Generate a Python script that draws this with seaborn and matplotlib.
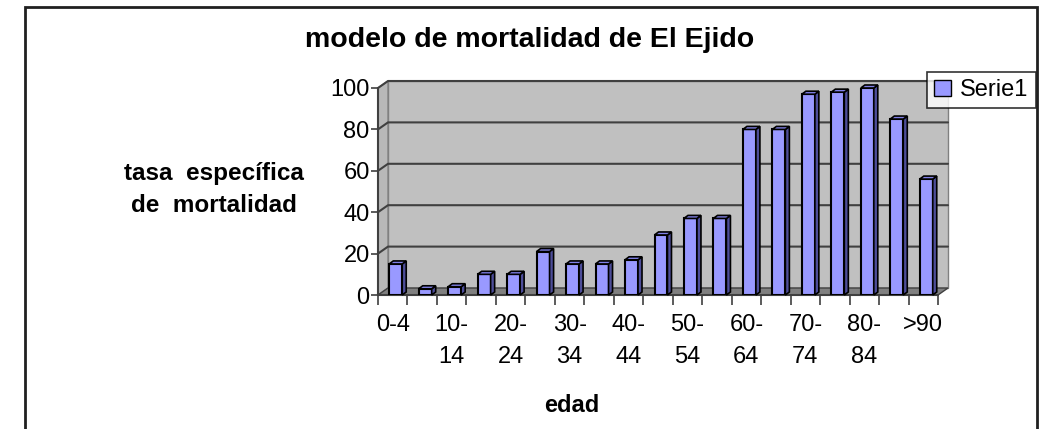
import pandas as pd
import matplotlib
matplotlib.use("Agg")
import matplotlib.pyplot as plt
from matplotlib.patches import Rectangle, Polygon
import seaborn as sns

# datos
grupos = ["0-4", "5-9", "10-14", "15-19", "20-24", "25-29", "30-34", "35-39",
          "40-44", "45-49", "50-54", "55-59", "60-64", "65-69", "70-74",
          "75-79", "80-84", "85-89", ">90"]
tasas = [15, 3, 4, 10, 10, 21, 15, 15, 17, 29, 37, 37, 80, 80, 97, 98, 100, 85, 56]
etiquetas = ["0-4", "", "10-\n14", "", "20-\n24", "", "30-\n34", "", "40-\n44", "",
             "50-\n54", "", "60-\n64", "", "70-\n74", "", "80-\n84", "", ">90"]
y_ticks = [0, 20, 40, 60, 80, 100]

sns.set_theme(style="white")
plt.rcParams['font.family'] = ['Liberation Sans', 'DejaVu Sans']
plt.rcParams['text.color'] = 'black'
plt.rcParams['xtick.labelcolor'] = 'black'
plt.rcParams['ytick.labelcolor'] = 'black'

W, H = 1042, 429
fig = plt.figure(figsize=(W / 100, H / 100), dpi=100)
ax = fig.add_axes([378 / W, 134 / H, 560 / W, 207 / H])

df = pd.DataFrame({"edad": grupos, "tasa": tasas})
sns.barplot(data=df, x="edad", y="tasa", color="#9999FF", saturation=1,
            width=0.44, edgecolor="black", linewidth=1.5, ax=ax, zorder=4)
bars = list(ax.patches)

ax.set_xlim(-0.5, len(grupos) - 0.5)
ax.set_ylim(0, 100)
ax.patch.set_visible(False)
for s in ax.spines.values():
    s.set_visible(False)

# profundidad de la pared (en fraccion de ejes)
dx, dy = 10 / 560, 7 / 207
gris = "#404040"

# pared de fondo, pared izquierda y suelo
ax.add_patch(Rectangle((dx, dy), 1, 1, transform=ax.transAxes, facecolor="#C0C0C0",
                       edgecolor="#808080", lw=1, zorder=0, clip_on=False))
ax.add_patch(Polygon([(0, 0), (0, 1), (dx, 1 + dy), (dx, dy)], transform=ax.transAxes,
                     facecolor="#B8B8B8", edgecolor="#808080", lw=1, zorder=1, clip_on=False))
ax.add_patch(Polygon([(0, 0), (1, 0), (1 + dx, dy), (dx, dy)], transform=ax.transAxes,
                     facecolor="#808080", edgecolor=gris, lw=1, zorder=2, clip_on=False))

# lineas de division
for t in y_ticks[1:]:
    f = t / 100
    ax.plot([0, dx, 1 + dx], [f, f + dy, f + dy], transform=ax.transAxes,
            color=gris, lw=1.5, zorder=1.5, clip_on=False)
ax.plot([0, 0], [0, 1], transform=ax.transAxes, color=gris, lw=1.5, zorder=3, clip_on=False)
ax.plot([0, 1], [0, 0], transform=ax.transAxes, color=gris, lw=1.5, zorder=3, clip_on=False)

# caras laterales y superiores de las barras
px_x = 560 / len(grupos)
px_y = 207 / 100
bdx, bdy = 4 / px_x, 3 / px_y
desp = 3 / px_x
for p in bars:
    p.set_x(p.get_x() + desp)
    x0, w, h = p.get_x(), p.get_width(), p.get_height()
    ax.add_patch(Polygon([(x0 + w, 0), (x0 + w, h), (x0 + w + bdx, h + bdy), (x0 + w + bdx, bdy)],
                         facecolor="#4D4D99", edgecolor="black", lw=1.2, zorder=4, clip_on=False))
    ax.add_patch(Polygon([(x0, h), (x0 + w, h), (x0 + w + bdx, h + bdy), (x0 + bdx, h + bdy)],
                         facecolor="#8080E6", edgecolor="black", lw=1.2, zorder=4, clip_on=False))

# ejes y marcas
ax.set_yticks(y_ticks)
ax.set_yticklabels([str(t) for t in y_ticks], fontsize=17)
ax.tick_params(axis="y", left=True, length=5, width=1.2, color=gris, pad=1)
ax.set_xticks(range(len(grupos)))
ax.set_xticklabels(etiquetas, fontsize=17, linespacing=1.55, va="top")
ax.set_xticks([i - 0.5 for i in range(len(grupos) + 1)], minor=True)
ax.tick_params(axis="x", which="major", bottom=True, length=0, pad=14)
ax.tick_params(axis="x", which="minor", bottom=True, length=7, width=1.2, color=gris)
ax.set_xlabel("")
ax.set_ylabel("")

# textos
fig.text(530 / W, 1 - 40 / H, "modelo de mortalidad de El Ejido", ha="center", va="center",
         fontsize=20.5, fontweight="bold")
fig.text(214 / W, 1 - 189 / H, "tasa  específica\nde  mortalidad", ha="center", va="center",
         multialignment="center", fontsize=17.5, fontweight="bold", linespacing=1.5)
fig.text(572 / W, 1 - 405 / H, "edad", ha="center", va="center", fontsize=17, fontweight="bold")

# leyenda
ley = ax.legend(handles=[Rectangle((0, 0), 1, 1, facecolor="#9999FF", edgecolor="black")],
                labels=["Serie1"], loc="upper left", bbox_to_anchor=(927 / W, 1 - 72 / H),
                bbox_transform=fig.transFigure, fontsize=17, frameon=True, fancybox=False,
                edgecolor="black", handlelength=0.7, handleheight=0.7, handletextpad=0.4,
                borderpad=0.3, borderaxespad=0)
ley.get_frame().set_linewidth(1.2)

# marco del grafico
fig.add_artist(Rectangle((25 / W, -0.05), (1037 - 25) / W, 1 - 7 / H + 0.05,
                         transform=fig.transFigure, facecolor="none", edgecolor="#202020",
                         lw=2, clip_on=False))

fig.savefig("out.png", dpi=100, facecolor="white")
